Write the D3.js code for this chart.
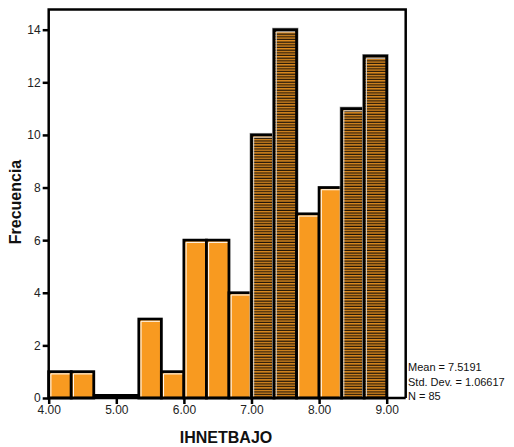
<!DOCTYPE html>
<html><head><meta charset="utf-8">
<script src="https://cdn.jsdelivr.net/npm/d3@7"></script>
<style>body{margin:0;background:#fff}svg{display:block}text{font-family:"Liberation Sans",Arial,sans-serif}</style>
</head><body><svg id="c" width="514" height="447"></svg>
<script>
const binStarts = [4.0,4.3333,4.6667,5.0,5.3333,5.6667,6.0,6.3333,6.6667,7.0,7.3333,7.6667,8.0,8.3333,8.6667];
const binWidth = 1/3;
const counts = [1,1,0,0,3,1,6,6,4,10,14,7,8,11,13];
const striped = [false,false,false,false,false,false,false,false,false,true,true,false,false,true,true];
const xTicks = [4,5,6,7,8,9];
const yTicks = [0,2,4,6,8,10,12,14];
const stats = ["Mean = 7.5191","Std. Dev. = 1.06617","N = 85"];
const xTitle = "IHNETBAJO", yTitle = "Frecuencia";

const svg = d3.select("#c");
const x = d3.scaleLinear().domain([4,9]).range([48.7,386.7]);
const y = d3.scaleLinear().domain([0,14]).range([398,29.7]);
const orange = "#f89a20";

const defs = svg.append("defs");
const pat = defs.append("pattern").attr("id","stripes").attr("patternUnits","userSpaceOnUse")
  .attr("width",6).attr("height",2.67);
pat.append("rect").attr("width",6).attr("height",2.67).attr("fill","#1a1209");
pat.append("rect").attr("y",0.1).attr("width",6).attr("height",1.3).attr("fill",orange);

// frame
const fx0 = x(4), fx1 = 405.7, fy0 = 9.5, fy1 = y(0);
svg.append("path").attr("d",`M${fx0},${fy1}V${fy0}H${fx1}V${fy1}`).attr("fill","none").attr("stroke","#000").attr("stroke-width",2.5);

const data = binStarts.map((s,i)=>({s,c:counts[i],st:striped[i]}));
const g = svg.append("g");
data.forEach(d=>{
  const x0 = x(d.s), x1 = x(d.s+binWidth), y0 = y(d.c), y1 = y(0);
  if(d.c===0){
    g.append("rect").attr("x",x0-1).attr("y",y1-4).attr("width",x1-x0+2).attr("height",3).attr("fill","#000");
    return;
  }
  if(d.st){
    g.append("rect").attr("x",x0-1.5).attr("y",y0-1.5).attr("width",x1-x0+3).attr("height",y1-y0+1.5)
      .attr("fill","none").attr("stroke","#aaa").attr("stroke-width",1);
  }
  g.append("rect").attr("x",x0).attr("y",y0).attr("width",x1-x0).attr("height",y1-y0)
    .attr("fill",d.st?"url(#stripes)":orange).attr("stroke","#000").attr("stroke-width",2.8);
  g.append("path").attr("d",`M${x0+2.2},${y1-1.5}V${y0+2.2}H${x1-1.5}`)
    .attr("fill","none").attr("stroke",d.st?"#ddd":"#fff").attr("stroke-width",1);
});

// axes
const yAxis = svg.append("g").attr("transform",`translate(${fx0},0)`)
  .call(d3.axisLeft(y).tickValues(yTicks).tickSize(6).tickPadding(2).tickFormat(d3.format("d")));
yAxis.select(".domain").remove();
yAxis.selectAll("line").attr("stroke","#000").attr("stroke-width",2.5);
yAxis.selectAll("text").attr("font-size",12).attr("fill","#222");

const xAxis = svg.append("g").attr("transform",`translate(0,${fy1})`)
  .call(d3.axisBottom(x).tickValues(xTicks).tickSize(6).tickPadding(1).tickFormat(d3.format(".2f")));
xAxis.select(".domain").attr("stroke","#000").attr("stroke-width",2.5).attr("d",`M${fx0},0H${fx1}`);
xAxis.selectAll("line").attr("stroke","#000").attr("stroke-width",2.5);
xAxis.selectAll("text").attr("font-size",12).attr("fill","#222");

svg.append("text").attr("x",226).attr("y",443).attr("text-anchor","middle")
  .attr("font-size",16).attr("font-weight","bold").attr("fill","#111").text(xTitle);
svg.append("text").attr("transform","translate(21,202) rotate(-90)").attr("text-anchor","middle")
  .attr("font-size",16).attr("font-weight","bold").attr("fill","#111").text(yTitle);

svg.append("g").selectAll("text").data(stats).join("text")
  .attr("x",408).attr("y",(d,i)=>371+i*14.5).attr("font-size",11).attr("fill","#111").text(d=>d);
</script></body></html>
